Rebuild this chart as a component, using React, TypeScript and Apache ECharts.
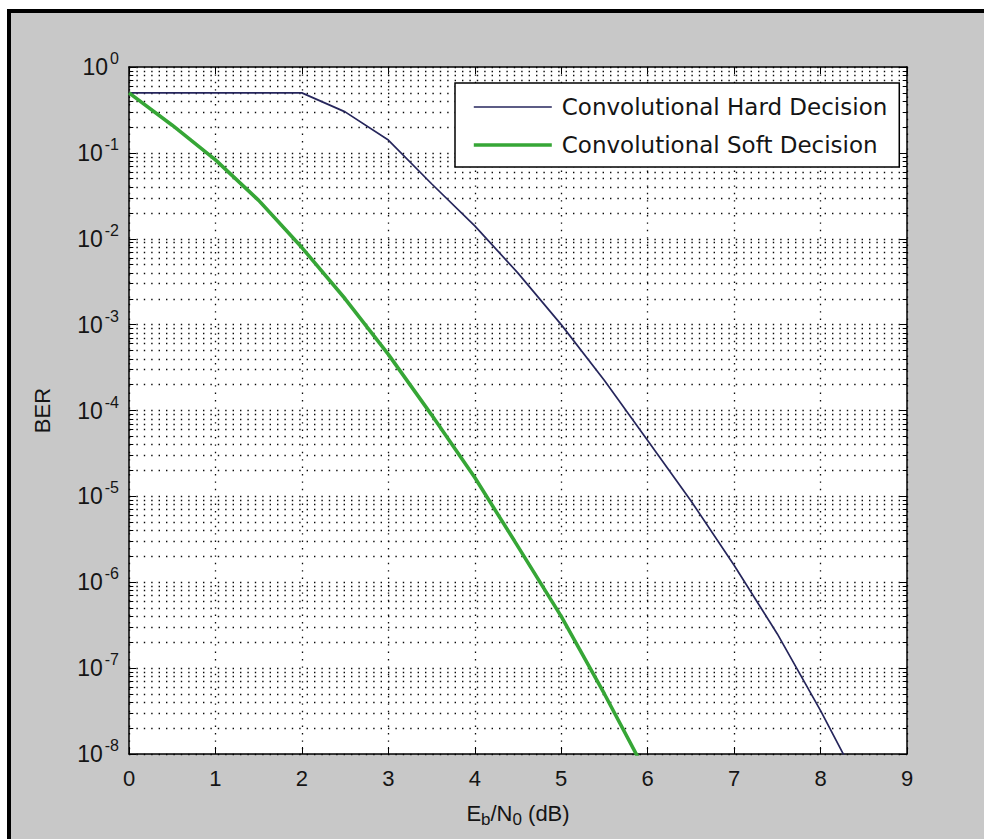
import React, { useEffect, useRef } from 'react';
import * as echarts from 'echarts';

// Eb/N0 sample points (dB)
const ebnoDb = [0, 0.5, 1, 1.5, 2, 2.5, 3, 3.5, 4, 4.5, 5, 5.5, 6, 6.5, 7, 7.5, 8, 8.5];

// Bit error rate, hard-decision Viterbi decoding
const hardBer = [
  0.5, 0.5, 0.5, 0.5, 0.5, 0.3, 0.141, 0.0437, 0.0141, 3.98e-3, 1.0e-3, 2.24e-4, 4.47e-5, 8.9e-6,
  1.58e-6, 2.5e-7, 3.2e-8, 3.5e-9,
];

// Bit error rate, soft-decision Viterbi decoding
const softBer = [
  0.5, 0.21, 0.083, 0.028, 7.9e-3, 2.0e-3, 4.5e-4, 8.9e-5, 1.66e-5, 2.6e-6, 4.0e-7, 5.0e-8, 5.6e-9,
];

const seriesNames = ['Convolutional Hard Decision', 'Convolutional Soft Decision'];
const seriesColors = ['#26265c', '#36a636'];
const seriesWidths = [1.7, 3.6];

// Decade exponents on the BER axis and the mantissas of the minor grid inside each decade
const decadeExponents = [-8, -7, -6, -5, -4, -3, -2, -1];
const minorMantissas = [2, 3, 4, 5, 6, 7, 8, 9];

const X_MIN = 0;
const X_MAX = 9;
const Y_MIN = 1e-8;
const Y_MAX = 1;

const FONT = '"Liberation Sans", Arial, sans-serif';
const LEGEND_FONT = '"DejaVu Sans", Verdana, sans-serif';
const TEXT = '#151515';
const DOTS: number[] = [1.4, 6];
const DOT_COLOR = '#0a0a0a';

export default function App() {
  const ref = useRef<HTMLDivElement>(null);

  useEffect(() => {
    document.documentElement.style.background = '#ffffff';
    document.body.style.overflow = 'hidden';
    if (!ref.current) return;
    const chart = echarts.init(ref.current, undefined, { renderer: 'svg' });

    const minorValues: number[] = [];
    decadeExponents.forEach((e) => {
      minorMantissas.forEach((m) => minorValues.push(Number((m * Math.pow(10, e)).toPrecision(3))));
    });

    const tickLen = 0.05; // minor tick length in dB units
    const minorGridLines = minorValues.map((v) => ({ coords: [[X_MIN, v], [X_MAX, v]] }));
    const minorTickLines: any[] = [];
    minorValues.forEach((v) => {
      minorTickLines.push({ coords: [[X_MIN, v], [X_MIN + tickLen, v]] });
      minorTickLines.push({ coords: [[X_MAX, v], [X_MAX - tickLen, v]] });
    });

    const axisLine = { show: true, onZero: false, lineStyle: { color: '#000', width: 1.5 } };
    const axisTick = { show: true, inside: true, length: 7, lineStyle: { color: '#000', width: 1 } };
    const dotted = { show: true, lineStyle: { type: DOTS, color: DOT_COLOR, width: 1.3 } };

    const expLabel = (v: number) => `{b|10}{s|${Math.round(Math.log10(v))}}`;

    chart.setOption({
      animation: false,
      backgroundColor: 'transparent',
      grid: {
        left: 118,
        top: 54,
        width: 778,
        height: 687,
        show: true,
        backgroundColor: '#ffffff',
        borderWidth: 0,
      },
      legend: {
        data: seriesNames.map((name, i) => ({
          name,
          icon: 'line',
          itemStyle: { color: seriesColors[i], borderColor: seriesColors[i], borderWidth: seriesWidths[i] },
        })),
        orient: 'vertical',
        left: 444,
        top: 70,
        backgroundColor: '#ffffff',
        borderColor: '#000',
        borderWidth: 1.5,
        borderRadius: 0,
        padding: [10, 12, 8, 17],
        itemWidth: 78,
        itemHeight: 14,
        itemGap: 10,
        selectedMode: false,
        textStyle: {
          fontSize: 23,
          fontFamily: LEGEND_FONT,
          color: TEXT,
          lineHeight: 28,
          padding: [0, 0, 0, 5],
        },
      },
      xAxis: [
        {
          type: 'value',
          position: 'bottom',
          min: X_MIN,
          max: X_MAX,
          interval: 1,
          axisLine,
          axisTick,
          axisLabel: { fontSize: 22, fontFamily: FONT, color: TEXT, margin: 13 },
          splitLine: dotted,
          name: 'E{sub|b}/N{sub|0} (dB)',
          nameLocation: 'middle',
          nameGap: 44,
          nameTextStyle: {
            fontSize: 22,
            fontFamily: FONT,
            color: TEXT,
            rich: { sub: { fontSize: 17, fontFamily: FONT, color: TEXT, padding: [13, 0, 0, 0] } },
          },
        },
        {
          type: 'value',
          position: 'top',
          min: X_MIN,
          max: X_MAX,
          interval: 1,
          axisLine,
          axisTick,
          axisLabel: { show: false },
          splitLine: { show: false },
        },
      ],
      yAxis: [
        {
          type: 'log',
          logBase: 10,
          position: 'left',
          min: Y_MIN,
          max: Y_MAX,
          axisLine,
          axisTick,
          splitLine: dotted,
          axisLabel: {
            margin: 10,
            formatter: expLabel,
            rich: {
              b: { fontSize: 23, fontFamily: FONT, color: TEXT },
              s: { fontSize: 16, fontFamily: FONT, color: TEXT, padding: [0, 0, 17, 2] },
            },
          },
          name: 'BER',
          nameLocation: 'middle',
          nameGap: 76,
          nameTextStyle: { fontSize: 22, fontFamily: FONT, color: TEXT },
        },
        {
          type: 'log',
          logBase: 10,
          position: 'right',
          min: Y_MIN,
          max: Y_MAX,
          axisLine,
          axisTick,
          axisLabel: { show: false },
          splitLine: { show: false },
        },
      ],
      series: [
        {
          name: 'minor grid',
          type: 'lines',
          coordinateSystem: 'cartesian2d',
          z: 1,
          silent: true,
          polyline: false,
          lineStyle: { type: DOTS, color: DOT_COLOR, width: 1.3, opacity: 1 },
          data: minorGridLines,
        },
        {
          name: 'minor ticks',
          type: 'lines',
          coordinateSystem: 'cartesian2d',
          z: 2,
          silent: true,
          polyline: false,
          lineStyle: { type: 'solid', color: '#000', width: 1, opacity: 1 },
          data: minorTickLines,
        },
        {
          name: seriesNames[0],
          type: 'line',
          z: 3,
          clip: true,
          symbol: 'none',
          data: hardBer.map((v, i) => [ebnoDb[i], v]),
          lineStyle: { color: seriesColors[0], width: seriesWidths[0] },
          itemStyle: { color: seriesColors[0] },
        },
        {
          name: seriesNames[1],
          type: 'line',
          z: 4,
          clip: true,
          symbol: 'none',
          data: softBer.map((v, i) => [ebnoDb[i], v]),
          lineStyle: { color: seriesColors[1], width: seriesWidths[1] },
          itemStyle: { color: seriesColors[1] },
        },
      ],
    });

    return () => chart.dispose();
  }, []);

  return (
    <div
      style={{
        position: 'fixed',
        left: 7,
        top: 9,
        width: 1000,
        height: 860,
        boxSizing: 'border-box',
        background: '#c8c8c8',
        borderTop: '4px solid #000',
        borderLeft: '4px solid #000',
        overflow: 'hidden',
      }}
    >
      <div ref={ref} style={{ width: 996, height: 856 }} />
    </div>
  );
}
